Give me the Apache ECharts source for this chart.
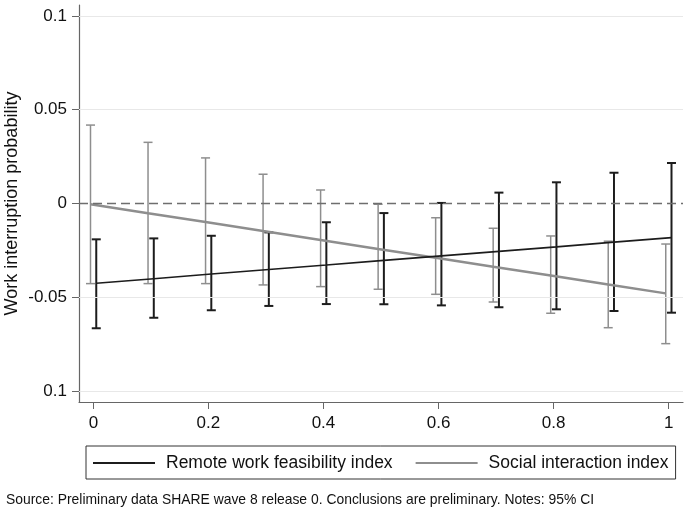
<!DOCTYPE html>
<html>
<head>
<meta charset="utf-8">
<script src="https://cdn.jsdelivr.net/npm/echarts@6/dist/echarts.min.js"></script>
<style>html,body{margin:0;padding:0;background:#fff}#c{width:685px;height:511px}</style>
</head>
<body>
<div id="c"></div>
<script>
const xValues = [0, 0.1, 0.2, 0.3, 0.4, 0.5, 0.6, 0.7, 0.8, 0.9, 1];
const remoteEst = [-0.0425, -0.0401, -0.0376, -0.0352, -0.0328, -0.0303, -0.0279, -0.0255, -0.0231, -0.0206, -0.0182];
const remoteLo  = [-0.0665, -0.0609, -0.0569, -0.0546, -0.0536, -0.0537, -0.0543, -0.0553, -0.0564, -0.0573, -0.0582];
const remoteHi  = [-0.0191, -0.0186, -0.0172, -0.0154, -0.0100, -0.0051, 0.0003, 0.0058, 0.0113, 0.0164, 0.0216];
const socialEst = [-0.0004, -0.0052, -0.0099, -0.0147, -0.0194, -0.0242, -0.0289, -0.0337, -0.0384, -0.0432, -0.0479];
const socialLo  = [-0.0427, -0.0427, -0.0427, -0.0434, -0.0443, -0.0457, -0.0484, -0.0525, -0.0585, -0.0662, -0.0747];
const socialHi  = [0.0418, 0.0326, 0.0243, 0.0156, 0.0072, -0.0004, -0.0076, -0.0132, -0.0173, -0.0201, -0.0216];
const xTickValues = [0, 0.2, 0.4, 0.6, 0.8, 1];
const xTickLabels = ['0', '0.2', '0.4', '0.6', '0.8', '1'];
const yTickValues = [-0.1, -0.05, 0, 0.05, 0.1];
const yTickLabels = ['0.1', '-0.05', '0', '0.05', '0.1'];
const gridValues = [-0.1, -0.05, 0.05, 0.1];
const seriesNames = ['Remote work feasibility index', 'Social interaction index'];
const yTitle = 'Work interruption probability';
const sourceNote = 'Source: Preliminary data SHARE wave 8 release 0. Conclusions are preliminary. Notes: 95% CI';

const FONT = "'Liberation Sans', Arial, Helvetica, sans-serif";
const BLACK = '#1c1c1c', GRAY = '#8e8e8e';
const DODGE = 0.005;

function ciRender(color, lw) {
  return function (params, api) {
    const x = api.value(0), lo = api.value(1), hi = api.value(2);
    const t = api.coord([x, hi]), b = api.coord([x, lo]);
    const hw = 4.5;
    const st = { stroke: color, lineWidth: lw };
    return { type: 'group', children: [
      { type: 'line', shape: { x1: t[0], y1: t[1], x2: b[0], y2: b[1] }, style: st },
      { type: 'line', shape: { x1: t[0] - hw, y1: t[1], x2: t[0] + hw, y2: t[1] }, style: st },
      { type: 'line', shape: { x1: b[0] - hw, y1: b[1], x2: b[0] + hw, y2: b[1] }, style: st }
    ]};
  };
}

const chart = echarts.init(document.getElementById('c'));
chart.setOption({
  animation: false,
  textStyle: { fontFamily: FONT },
  title: {
    text: sourceNote, left: 1, top: 488,
    textStyle: { fontFamily: FONT, fontSize: 13.9, fontWeight: 'normal', color: '#111' }
  },
  grid: { left: 79, right: 2, top: 5, bottom: 109, containLabel: false, outerBoundsMode: 'none' },
  legend: {
    data: [
      { name: seriesNames[0], icon: 'rect' },
      { name: seriesNames[1], icon: 'rect' }
    ],
    left: 86, top: 446,
    padding: [7, 7, 6, 7], itemWidth: 62, itemHeight: 2, itemGap: 23,
    borderColor: '#333', borderWidth: 1,
    textStyle: { fontFamily: FONT, fontSize: 17.5, color: '#111', padding: [0, 0, 0, 6], lineHeight: 20 }
  },
  xAxis: {
    type: 'value', min: -0.025, max: 1.025,
    axisLine: { onZero: false, lineStyle: { color: '#666', width: 1.2 } },
    axisTick: { customValues: xTickValues, length: 7, lineStyle: { color: '#666' } },
    axisLabel: { customValues: xTickValues, margin: 13, fontSize: 17, color: '#111', fontFamily: FONT,
      formatter: v => { const i = xTickValues.findIndex(t => Math.abs(t - v) < 1e-9); return i >= 0 ? xTickLabels[i] : ''; } },
    splitLine: { show: false }
  },
  yAxis: {
    type: 'value', min: -0.1058, max: 0.1058,
    name: yTitle, nameLocation: 'middle', nameRotate: 90, nameGap: 58, nameMoveOverlap: false,
    nameTextStyle: { fontFamily: FONT, fontSize: 18, color: '#111' },
    axisLine: { show: true, onZero: false, lineStyle: { color: '#666', width: 1.2 } },
    axisTick: { show: true, customValues: yTickValues, length: 7, lineStyle: { color: '#666' } },
    axisLabel: { customValues: yTickValues, margin: 12, fontSize: 17, color: '#111', fontFamily: FONT,
      formatter: v => { const i = yTickValues.findIndex(t => Math.abs(t - v) < 1e-9); return i >= 0 ? yTickLabels[i] : ''; } },
    splitLine: { show: false }
  },
  series: [
    {
      name: 'refLines', type: 'line', data: [], silent: true, z: 0,
      markLine: {
        silent: true, symbol: 'none', label: { show: false },
        data: gridValues.map(v => ({ yAxis: v, lineStyle: { color: '#e8e8e8', width: 1, type: 'solid' } }))
          .concat([{ yAxis: 0, lineStyle: { color: '#6e6e6e', width: 1.3, type: [9, 5] } }])
      }
    },
    {
      name: 'socialCI', type: 'custom', z: 2,
      renderItem: ciRender(GRAY, 1.5),
      encode: { x: 0, y: [1, 2] },
      data: xValues.map((x, i) => [x - DODGE, socialLo[i], socialHi[i]])
    },
    {
      name: 'remoteCI', type: 'custom', z: 3,
      renderItem: ciRender(BLACK, 2),
      encode: { x: 0, y: [1, 2] },
      data: xValues.map((x, i) => [x + DODGE, remoteLo[i], remoteHi[i]])
    },
    {
      name: seriesNames[1], type: 'line', z: 4, symbol: 'none', showSymbol: false,
      color: GRAY, lineStyle: { color: GRAY, width: 2.5 },
      data: xValues.map((x, i) => [x - DODGE, socialEst[i]])
    },
    {
      name: seriesNames[0], type: 'line', z: 5, symbol: 'none', showSymbol: false,
      color: BLACK, lineStyle: { color: BLACK, width: 1.6 },
      data: xValues.map((x, i) => [x + DODGE, remoteEst[i]])
    }
  ]
});
</script>
</body>
</html>
